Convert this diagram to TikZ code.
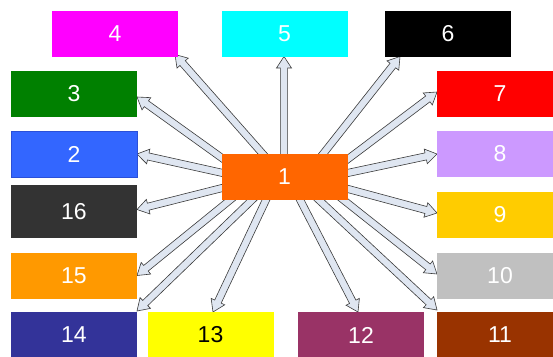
\documentclass[tikz,border=0pt]{standalone}
\usepackage{fontspec}
\setmainfont{Liberation Sans}
\usetikzlibrary{calc,backgrounds}
\definecolor{cA}{HTML}{FF6600}
\definecolor{cB}{HTML}{3366FF}
\definecolor{cBd}{HTML}{2B50D8}
\definecolor{cC}{HTML}{008000}
\definecolor{cD}{HTML}{FF00FF}
\definecolor{cE}{HTML}{00FFFF}
\definecolor{cF}{HTML}{000000}
\definecolor{cG}{HTML}{FF0000}
\definecolor{cH}{HTML}{CC99FF}
\definecolor{cI}{HTML}{FFCC00}
\definecolor{cJ}{HTML}{C0C0C0}
\definecolor{cK}{HTML}{993300}
\definecolor{cL}{HTML}{993366}
\definecolor{cM}{HTML}{FFFF00}
\definecolor{cN}{HTML}{333399}
\definecolor{cO}{HTML}{FF9900}
\definecolor{cP}{HTML}{333333}
\definecolor{arrfill}{HTML}{DFE6F1}
\definecolor{arrline}{HTML}{3A3A3A}
\tikzset{
  box/.style={rectangle, inner sep=0pt, outer sep=0pt, minimum width=126pt, minimum height=46pt,
     text=white, font=\fontsize{23}{26}\selectfont},
  barrowstyle/.style={fill=arrfill, draw=arrline, line width=0.6pt, line join=miter},
}
\newcommand{\barrow}[2]{%
  \draw[barrowstyle] let \p1=(#1), \p2=(#2),
     \n1={atan2(\y2-\y1,\x2-\x1)}, \n2={veclen(\x2-\x1,\y2-\y1)} in
     ($(\p1)+(\n1+90:3.6pt)$) --
     ($(\p1)+(\n1:\n2-11.5pt)+(\n1+90:3.6pt)$) --
     ($(\p1)+(\n1:\n2-11.5pt)+(\n1+90:7.5pt)$) --
     (\p2) --
     ($(\p1)+(\n1:\n2-11.5pt)+(\n1-90:7.5pt)$) --
     ($(\p1)+(\n1:\n2-11.5pt)+(\n1-90:3.6pt)$) --
     ($(\p1)+(\n1-90:3.6pt)$) -- cycle;}
\begin{document}
\begin{tikzpicture}[x=1pt,y=-1pt]
\useasboundingbox (0,0) rectangle (553,356);
\begin{scope}
\clip (0,0) rectangle (553,356);
% boxes (pixel centres)
\node[box, fill=cA] (n1) at (284.5,177) {1};
\node[box, fill=cB, draw=cBd, line width=0.8pt] (n2) at (74,154) {2};
\node[box, fill=cC] (n3) at (74,94) {3};
\node[box, fill=cD] (n4) at (115,33.5) {4};
\node[box, fill=cE] (n5) at (284.5,33.5) {5};
\node[box, fill=cF] (n6) at (448,33.5) {6};
\node[box, fill=cG] (n7) at (500,94) {7};
\node[box, fill=cH] (n8) at (500,154) {8};
\node[box, fill=cI] (n9) at (500,215) {9};
\node[box, fill=cJ] (n10) at (500,276) {10};
\node[box, fill=cK] (n11) at (500,335) {11};
\node[box, fill=cL] (n12) at (361,335) {12};
\node[box, fill=cM, text=black] (n13) at (210.5,335) {13};
\node[box, fill=cN] (n14) at (74,335) {14};
\node[box, fill=cO] (n15) at (74,275.5) {15};
\node[box, fill=cP, minimum height=53pt] (n16) at (74,211.5) {16};
\end{scope}
% start points inside box 1
\coordinate (s4) at ($(n1.center)+(-15,-15.5)$);
\coordinate (s5) at ($(n1.center)+(-0.5,-13)$);
\coordinate (s6) at ($(n1.center)+(32.3,-15.2)$);
\coordinate (s7) at ($(n1.center)+(55.5,-12)$);
\coordinate (s8) at ($(n1.center)+(53.7,-2)$);
\coordinate (s9) at ($(n1.center)+(54,9.4)$);
\coordinate (s10) at ($(n1.center)+(51.5,17)$);
\coordinate (s11) at ($(n1.center)+(27.2,16.2)$);
\coordinate (s12) at ($(n1.center)+(11,14)$);
\coordinate (s13) at ($(n1.center)+(-14.3,14)$);
\coordinate (s14) at ($(n1.center)+(-25.3,16)$);
\coordinate (s15) at ($(n1.center)+(-46.7,16.7)$);
\coordinate (s16) at ($(n1.center)+(-52.8,8.6)$);
\coordinate (s2) at ($(n1.center)+(-52.7,-2)$);
\coordinate (s3) at ($(n1.center)+(-54.5,-13.2)$);
% tips
\coordinate (t4) at ($(n4.south east)+(-3,-2)$);
\coordinate (t5) at ($(n5.south)+(-0.5,0)$);
\coordinate (t6) at ($(n6.south west)+(15,0)$);
\coordinate (t7) at ($(n7.west)+(0,-2)$);
\coordinate (t8) at (n8.west);
\coordinate (t9) at ($(n9.west)+(0,-2)$);
\coordinate (t10) at ($(n10.west)+(0,-2)$);
\coordinate (t11) at ($(n11.north west)+(0,-2)$);
\coordinate (t12) at ($(n12.north)+(-3,0)$);
\coordinate (t13) at ($(n13.north)+(2.5,0)$);
\coordinate (t14) at ($(n14.north east)+(0,-1)$);
\coordinate (t15) at (n15.east);
\coordinate (t16) at ($(n16.east)+(0,-2)$);
\coordinate (t2) at (n2.east);
\coordinate (t3) at ($(n3.east)+(0,3)$);
\begin{pgfonlayer}{background}
\foreach \k in {4,5,6,7,8,9,10,11,12,13,14,15,16,2,3} {\barrow{s\k}{t\k}}
\end{pgfonlayer}
\end{tikzpicture}
\end{document}
